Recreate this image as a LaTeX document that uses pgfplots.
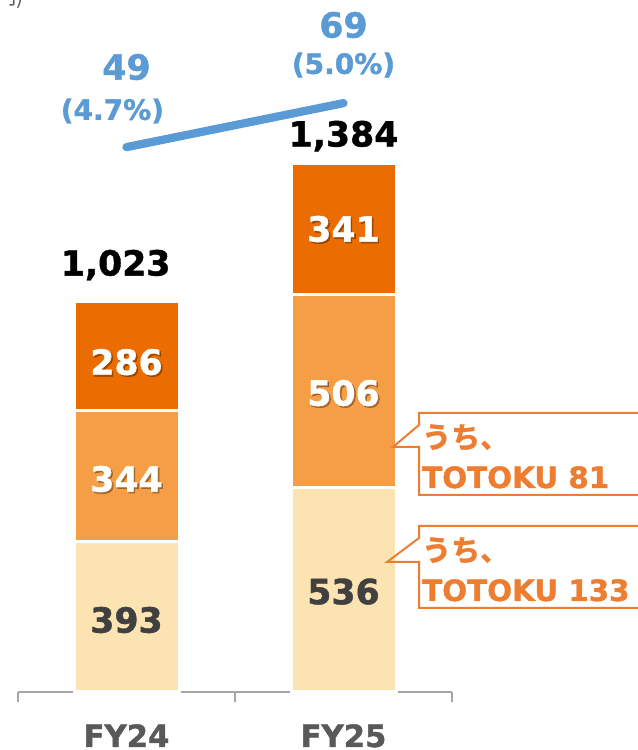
\documentclass[border=0pt]{standalone}
\usepackage{pgfplots}
\pgfplotsset{compat=1.18}
\usepackage{fontspec}
\setmainfont{DejaVu Sans}[BoldFeatures={FakeBold=1.2}]
\newfontfamily\jpfont{Noto Sans CJK JP}
\definecolor{o1}{HTML}{FCE4B2}
\definecolor{o2}{HTML}{F59E45}
\definecolor{o3}{HTML}{EB6C00}
\definecolor{lblue}{HTML}{5B9BD5}
\definecolor{co}{HTML}{ED7D31}
\definecolor{dgray}{HTML}{404040}
\definecolor{agray}{HTML}{A6A6A6}
\definecolor{tgray}{HTML}{595959}
\newcommand{\pp}[2]{({(#1)*0.75pt},{(750-(#2))*0.75pt})}
\newcommand{\lbl}{\fontsize{26}{30}\selectfont\bfseries}
\newcommand{\wlbl}[3]{%
  \node[font=\lbl, text=black, opacity=0.3] at ([xshift=1.2pt,yshift=-1.2pt]axis cs:#1,#2) {#3};
  \node[font=\lbl, text=white] at (axis cs:#1,#2) {#3};}
\pgfplotsset{frame/.style={at={(13.5pt,43.5pt)}, anchor=south west,
  scale only axis, width=325.5pt, height=519pt, xmin=-0.5, xmax=1.5}}
\begin{document}
\begin{tikzpicture}
\begin{axis}[
  frame, ymin=0, ymax=1812.5,
  ybar stacked, bar width=78.75pt,
  axis x line*=bottom, axis y line=none,
  axis line style={draw=agray, line width=1.5pt, -},
  xtick={0,1}, xticklabels={FY24,FY25},
  major tick length=0pt,
  minor xtick={-0.5,0.5,1.5}, minor tick length=7.5pt, tick align=outside,
  minor tick style={draw=agray, line width=1.5pt},
  xticklabel style={font=\fontsize{23}{27}\selectfont\bfseries, text=tgray, anchor=base, yshift=-41.25pt},
  ytick=\empty,
  clip=false,
]
\addplot[fill=o1, draw=white, line width=2.25pt] coordinates {(0,393) (1,536)};
\addplot[fill=o2, draw=white, line width=2.25pt] coordinates {(0,344) (1,506)};
\addplot[fill=o3, draw=white, line width=2.25pt] coordinates {(0,286) (1,341)};
\end{axis}
\begin{axis}[frame, ymin=-198.7, ymax=115.9, hide axis, clip=false]
\addplot[lblue, line width=6.2pt, line cap=round] coordinates {(0,49) (1,69)};
\end{axis}
\begin{axis}[frame, ymin=0, ymax=1812.5, hide axis, clip=false]
% segment labels
\node[font=\lbl, text=dgray] at (axis cs:0,188.6) {393};
\node[font=\lbl, text=dgray] at (axis cs:1,263) {536};
\wlbl{0}{557.9}{344}
\wlbl{0}{864}{286}
\wlbl{1}{783}{506}
\wlbl{1}{1212.7}{341}
% totals
\node[font=\lbl, text=black] at (axis cs:-0.05,1118) {1,023};
\node[font=\lbl, text=black] at (axis cs:1,1456) {1,384};
% profit labels
\node[font=\fontsize{26}{30}\selectfont\bfseries, text=lblue] at (axis cs:0,1637) {49};
\node[font=\fontsize{21}{25}\selectfont\bfseries, text=lblue] at (axis cs:-0.065,1521.7) {(4.7\%)};
\node[font=\fontsize{26}{30}\selectfont\bfseries, text=lblue] at (axis cs:1,1747) {69};
\node[font=\fontsize{21}{25}\selectfont\bfseries, text=lblue] at (axis cs:1,1642) {(5.0\%)};
\end{axis}
% callouts
\draw[co, line width=1.5pt, line join=miter] \pp{419}{425} -- \pp{419}{413} -- \pp{660}{413} -- \pp{660}{495} -- \pp{419}{495} -- \pp{419}{447} -- \pp{393}{447} -- cycle;
\draw[co, line width=1.5pt, line join=miter] \pp{419}{538} -- \pp{419}{526} -- \pp{660}{526} -- \pp{660}{608} -- \pp{419}{608} -- \pp{419}{562} -- \pp{387}{562} -- cycle;
\node[anchor=base west, text=co, font=\jpfont\fontsize{22}{26}\selectfont\bfseries, inner sep=0pt] at \pp{422}{449} {うち、};
\node[anchor=base west, text=co, font=\fontsize{22}{26}\selectfont\bfseries, inner sep=0pt] at \pp{422}{488} {TOTOKU 81};
\node[anchor=base west, text=co, font=\jpfont\fontsize{22}{26}\selectfont\bfseries, inner sep=0pt] at \pp{422}{562} {うち、};
\node[anchor=base west, text=co, font=\fontsize{22}{26}\selectfont\bfseries, inner sep=0pt] at \pp{422}{601} {TOTOKU 133};
% cropped unit text
\node[anchor=base east, text=tgray, font=\jpfont\fontsize{16}{18}\selectfont, inner sep=0pt] at \pp{24}{5} {(億円)};
\pgfresetboundingbox
\path[use as bounding box] (0,0) rectangle (478.5pt,562.5pt);
\end{tikzpicture}
\end{document}
